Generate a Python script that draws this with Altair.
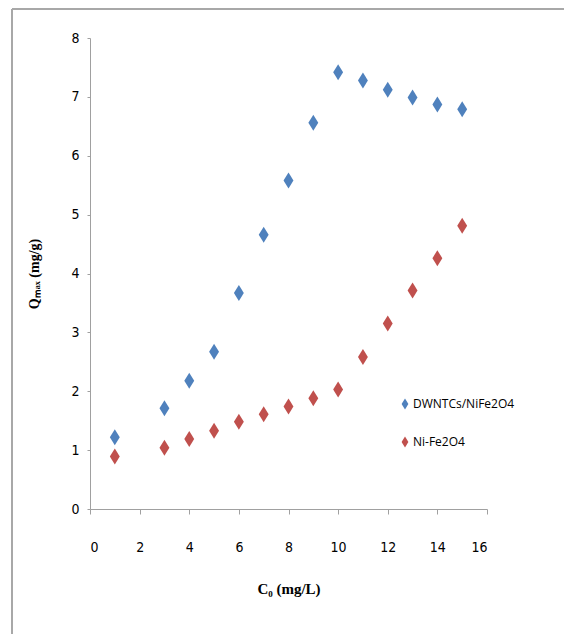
import altair as alt
import pandas as pd

x_vals = [1, 3, 4, 5, 6, 7, 8, 9, 10, 11, 12, 13, 14, 15]
blue_vals = [1.22, 1.71, 2.18, 2.67, 3.67, 4.66, 5.58, 6.56, 7.42, 7.28, 7.12, 6.99, 6.87, 6.79]
red_vals = [0.89, 1.04, 1.19, 1.33, 1.48, 1.61, 1.74, 1.88, 2.03, 2.58, 3.15, 3.71, 4.26, 4.81]
series_names = ["DWNTCs/NiFe2O4", "Ni-Fe2O4"]
series_colors = ["#4F81BD", "#C0504D"]

rows = []
for xv, b in zip(x_vals, blue_vals):
    rows.append({"C0": xv, "Q": b, "series": series_names[0]})
for xv, r in zip(x_vals, red_vals):
    rows.append({"C0": xv, "Q": r, "series": series_names[1]})
df = pd.DataFrame(rows)

diamond = "M0,-1L0.62,0L0,1L-0.62,0Z"
tick_font = "DejaVu Sans Condensed"

points = alt.Chart(df).mark_point(filled=True, opacity=1, shape=diamond, size=256).encode(
    x=alt.X("C0:Q", scale=alt.Scale(domain=[0, 16], nice=False),
            axis=alt.Axis(title="C₀ (mg/L)", values=list(range(0, 17, 2)), grid=False,
                          domainColor="#A0A0A0", tickColor="#A0A0A0", tickSize=5,
                          labelFont=tick_font, labelFontSize=14, labelColor="#000000",
                          labelPadding=26, titleFont="Liberation Serif", titleFontSize=15,
                          titleFontWeight="bold", titlePadding=27, titleColor="#000000")),
    y=alt.Y("Q:Q", scale=alt.Scale(domain=[0, 8], nice=False),
            axis=alt.Axis(title="Qₘₐₓ (mg/g)", values=list(range(0, 9)), grid=False,
                          domainColor="#A0A0A0", tickColor="#A0A0A0", tickSize=3,
                          labelFont=tick_font, labelFontSize=14, labelColor="#000000",
                          labelPadding=8, titleFont="Liberation Serif", titleFontSize=14,
                          titleFontWeight="bold", titlePadding=29, titleColor="#000000")),
    color=alt.Color("series:N", scale=alt.Scale(domain=series_names, range=series_colors),
                    legend=alt.Legend(title=None, orient="none", legendX=309, legendY=360,
                                      symbolType=diamond, symbolSize=120, rowPadding=26,
                                      labelFont="Open Sans", labelFontSize=12,
                                      labelColor="#000000", symbolStrokeWidth=0,
                                      labelOffset=2)),
)

frame_left = alt.Chart(df).mark_rule(color="#A8A8A8", strokeWidth=2).encode(
    x=alt.value(-78), y=alt.value(-29), y2=alt.value(640)
)
frame_top = alt.Chart(df).mark_rule(color="#A8A8A8", strokeWidth=2).encode(
    x=alt.value(-78), x2=alt.value(480), y=alt.value(-29)
)

chart = alt.layer(frame_left, frame_top, points).properties(
    width=397, height=471,
    autosize=alt.AutoSizeParams(type="none"),
    padding={"left": 90, "top": 38, "right": 77, "bottom": 125},
).configure_view(stroke=None)

chart.save("out.html", embed_options={"renderer": "svg", "actions": False})
